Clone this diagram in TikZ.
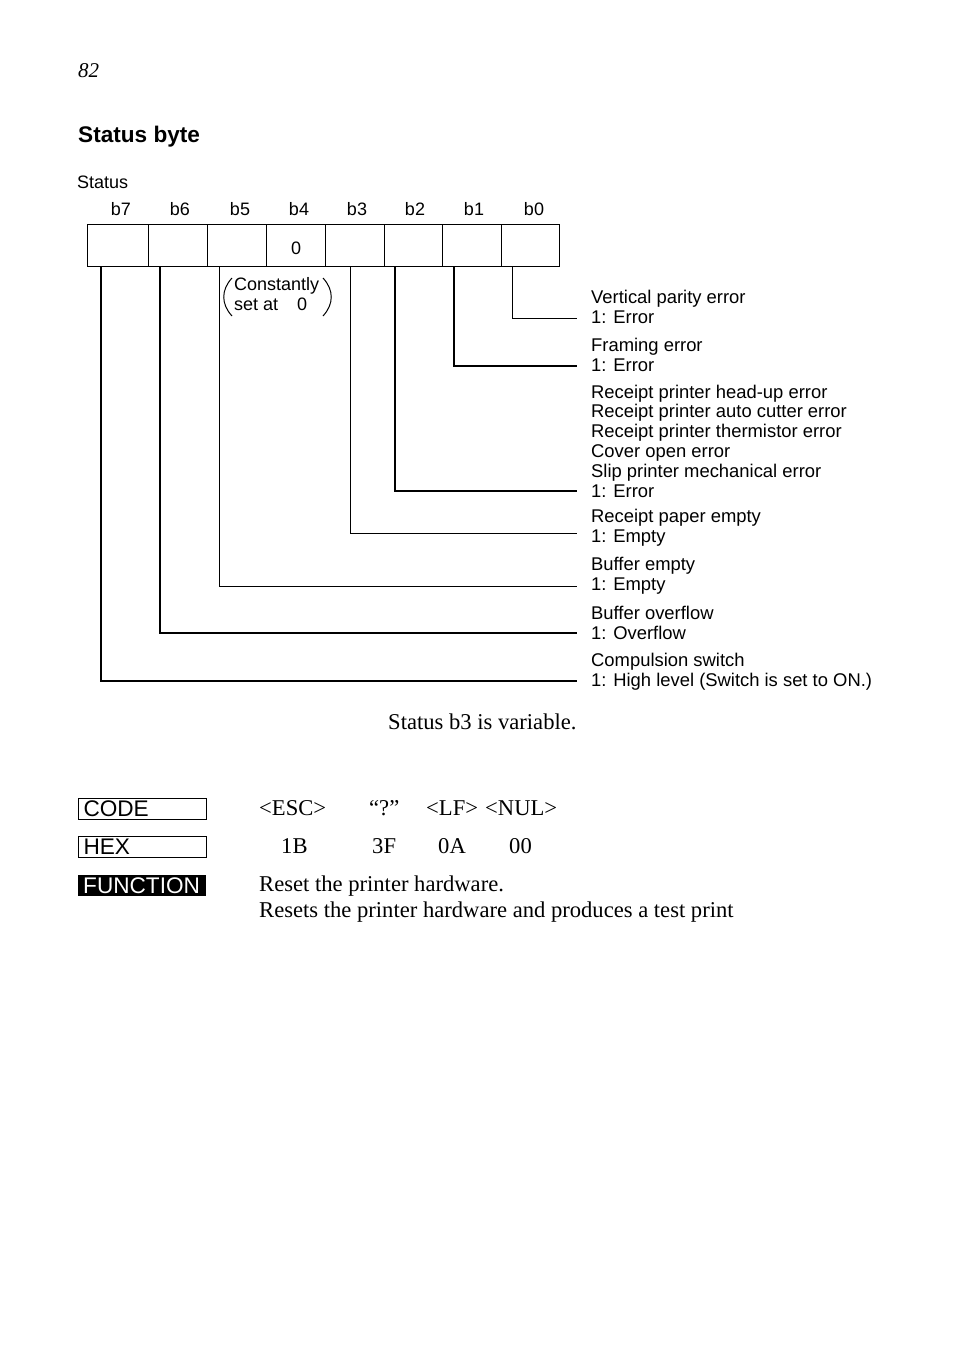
\documentclass[tikz,border=0pt]{standalone}
\usepackage{fontspec}
\setmainfont{Liberation Sans}
\newfontfamily\serif{Liberation Serif}
\begin{document}
\begin{tikzpicture}[x=1pt,y=-1pt,
  cell/.style={draw,line width=1.2pt,minimum height=42pt,inner sep=0pt,anchor=north west,font=\fontsize{18}{20}\selectfont},
  bitlbl/.style={anchor=base,inner sep=0pt,font=\fontsize{18}{20}\selectfont},
  lbl/.style={anchor=base west,inner sep=0pt,align=left,font=\fontsize{18.4}{19.8}\selectfont},
  srf/.style={anchor=base west,inner sep=0pt,font=\serif\fontsize{22.6}{26}\selectfont},
  tag/.style={draw,line width=1pt,anchor=north west,minimum width=128pt,minimum height=21pt,inner sep=0pt,text width=118pt,align=left,font=\fontsize{22.6}{22}\selectfont},
  ftag/.style={fill=black,text=white,anchor=north west,minimum width=128pt,minimum height=21pt,inner sep=0pt,text width=118pt,align=left,font=\fontsize{22.6}{22}\selectfont}
]
\useasboundingbox (0,0) rectangle (954,1352);
\fill[white] (0,0) rectangle (954,1352);

% header
\node[anchor=base west,inner sep=0pt,font=\serif\itshape\fontsize{21}{21}\selectfont] (page) at (78,77) {82};
\node[anchor=base west,inner sep=0pt,font=\bfseries\fontsize{22.6}{22}\selectfont] (title) at (78,142) {Status byte};
\node[anchor=base west,inner sep=0pt,font=\fontsize{18}{20}\selectfont] (status) at (77,188) {Status};

% bit labels
\foreach \i/\x in {7/121,6/180,5/240,4/299,3/357,2/415,1/474,0/534}
  \node[bitlbl] (t\i) at (\x,215) {b\i};

% cells
\node[cell,minimum width=61pt] (c7) at (87,224) {};
\node[cell,minimum width=59pt] (c6) at (148,224) {};
\node[cell,minimum width=59pt] (c5) at (207,224) {};
\node[cell,minimum width=59pt] (c4) at (266,224) {};
\node[cell,minimum width=59pt] (c3) at (325,224) {};
\node[cell,minimum width=58pt] (c2) at (384,224) {};
\node[cell,minimum width=59pt] (c1) at (442,224) {};
\node[cell,minimum width=58pt] (c0) at (501,224) {};
\node[bitlbl] (zero) at ([yshift=13pt]c4.south) {0};

% constantly set at 0
\node[anchor=base west,inner sep=0pt,align=left,font=\fontsize{18}{19.5}\selectfont] (const) at (234,310) {Constantly\\set at\hspace{1.05em}0};
\draw[line width=1pt] (232,278) .. controls (221,290) and (221,304) .. (232,316);
\draw[line width=1pt] (323,278) .. controls (334,290) and (334,304) .. (323,316);

% labels
\node[lbl] (l0) at (591,323) {Vertical parity error\\1: Error};
\node[lbl] (l1) at (591,371) {Framing error\\1: Error};
\node[lbl] (l2) at (591,497) {Receipt printer head-up error\\Receipt printer auto cutter error\\Receipt printer thermistor error\\Cover open error\\Slip printer mechanical error\\1: Error};
\node[lbl] (l3) at (591,542) {Receipt paper empty\\1: Empty};
\node[lbl] (l5) at (591,590) {Buffer empty\\1: Empty};
\node[lbl] (l6) at (591,639) {Buffer overflow\\1: Overflow};
\node[lbl] (l7) at (591,686) {Compulsion switch\\1: High level (Switch is set to ON.)};

% wire ends
\coordinate (e0) at (577,318);
\coordinate (e1) at (577,366);
\coordinate (e2) at (577,491);
\coordinate (e3) at (577,533);
\coordinate (e5) at (577,586);
\coordinate (e6) at (577,633);
\coordinate (e7) at (577,681);

\draw[line width=1pt] ([xshift=11pt]c0.south west) |- (e0);
\draw[line width=1.6pt] ([xshift=12pt]c1.south west) |- (e1);
\draw[line width=1.4pt] ([xshift=11pt]c2.south west) |- (e2);
\draw[line width=1pt] ([xshift=25pt]c3.south west) |- (e3);
\draw[line width=1pt] ([xshift=12pt]c5.south west) |- (e5);
\draw[line width=1.4pt] ([xshift=12pt]c6.south west) |- (e6);
\draw[line width=1.3pt] ([xshift=14pt]c7.south west) |- (e7);

% note
\node[srf] (note) at (388,729) {Status b3 is variable.};

% command table
\node[tag] (code) at (78,798) {CODE};
\node[tag] (hex) at (78,836) {HEX};
\node[ftag] (func) at (78,875) {FUNCTION};

\node[srf] (k1) at (259,815) {<ESC>};
\node[srf] (k2) at (369,815) {“?”};
\node[srf] (k3) at (426,815) {<LF>};
\node[srf] (k4) at (485,815) {<NUL>};
\node[srf] (h1) at (281,853) {1B};
\node[srf] (h2) at (372,853) {3F};
\node[srf] (h3) at (438,853) {0A};
\node[srf] (h4) at (509,853) {00};
\node[srf] (f1) at (259,891) {Reset the printer hardware.};
\node[srf] (f2) at (259,917) {Resets the printer hardware and produces a test print};
\end{tikzpicture}
\end{document}
